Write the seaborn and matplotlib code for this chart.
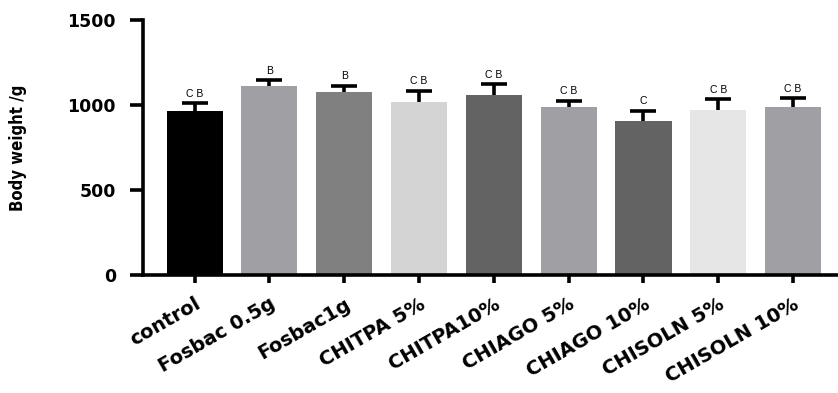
import numpy as np
import pandas as pd
import matplotlib
matplotlib.use("Agg")
import matplotlib.pyplot as plt
import seaborn as sns
from matplotlib import font_manager

groups = ["control", "Fosbac 0.5g", "Fosbac1g", "CHITPA 5%", "CHITPA10%",
          "CHIAGO 5%", "CHIAGO 10%", "CHISOLN 5%", "CHISOLN 10%"]
weights = [965, 1112, 1076, 1020, 1059, 988, 904, 973, 990]
errors = [45, 33, 36, 62, 63, 36, 61, 60, 49]
letters = ["C B", "B", "B", "C B", "C B", "C B", "C", "C B", "C B"]
bar_colors = ["#000000", "#a0a0a4", "#808080", "#d4d4d4", "#636363",
              "#a0a0a4", "#636363", "#e6e6e6", "#a0a0a4"]
yticks = [0, 500, 1000, 1500]

sns.set_style("ticks")
plt.rcParams["font.family"] = ["DejaVu Sans"]
plt.rcParams["text.color"] = "black"
plt.rcParams["axes.labelcolor"] = "black"
plt.rcParams["xtick.color"] = "black"
plt.rcParams["ytick.color"] = "black"
plt.rcParams["axes.edgecolor"] = "black"

available = {f.name for f in font_manager.fontManager.ttflist}
arial = "Liberation Sans" if "Liberation Sans" in available else "DejaVu Sans"

df = pd.DataFrame({"group": groups, "weight": weights})

fig = plt.figure(figsize=(8.38, 3.93), dpi=100)
ax = fig.add_axes([143 / 838, 1 - 275 / 393, (838 - 143) / 838, 255 / 393])

sns.barplot(data=df, x="group", y="weight", hue="group", palette=bar_colors,
            order=groups, hue_order=groups, legend=False, width=0.75,
            saturation=1, edgecolor="none", ax=ax, errorbar=None)

# one-sided (upper) SD bars: keep only the top cap
x = np.arange(len(groups))
eb = ax.errorbar(x, weights, yerr=[np.zeros(len(errors)), errors], fmt="none",
                 ecolor="black", elinewidth=2.6, capsize=9.5, capthick=2.6,
                 zorder=3)
caps = eb[1]
caps[0].set_visible(False)

for xi, w, e, lab in zip(x, weights, errors, letters):
    ax.text(xi, w + e + 28, lab, ha="center", va="bottom", fontsize=7.5,
            family=arial, color="black")

ax.set_xlim(-0.69, 8.6)
ax.set_ylim(0, 1500)
ax.set_yticks(yticks)
ax.set_yticklabels([str(t) for t in yticks], fontsize=12.5, fontweight="bold")
ax.set_xticks(x)
ax.set_xticklabels(groups, rotation=30, ha="right", rotation_mode="anchor",
                   fontsize=14, fontweight="bold")
ax.set_xlabel("")
ax.set_ylabel("Body weight /g", fontsize=12, fontweight="bold",
              fontstretch="condensed", labelpad=29)

for side in ("top", "right"):
    ax.spines[side].set_visible(False)
for side in ("left", "bottom"):
    ax.spines[side].set_linewidth(2.6)
ax.tick_params(axis="y", length=9.5, width=2.6, pad=10)
ax.tick_params(axis="x", length=6, width=2.6, pad=8)

fig.savefig("out.png", dpi=100)
